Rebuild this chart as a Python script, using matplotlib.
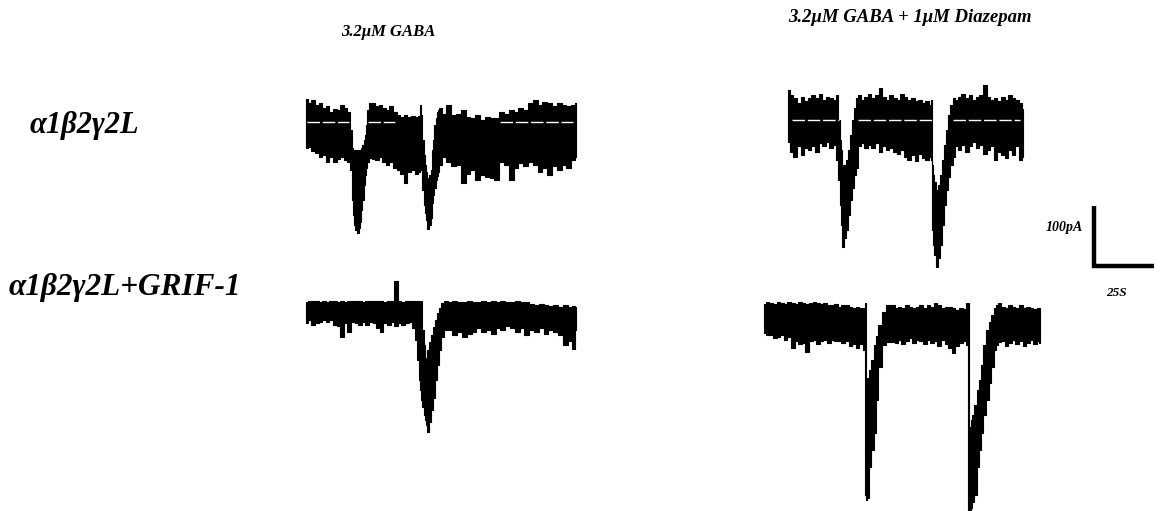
import matplotlib
matplotlib.use("Agg")
import matplotlib.pyplot as plt

# ---------------------------------------------------------------------------
# Whole-cell current traces: envelope (upper / lower edge of the noisy band)
# time in s from trace start, current in pA relative to holding baseline
# ---------------------------------------------------------------------------

# a1b2g2L, 3.2 uM GABA
t1 = [0, 1.5, 3, 4.5, 6, 7.5, 9, 10.5, 12, 13.5, 15, 16.5, 18,
      18.3, 18.75, 19.2, 19.6, 20, 20.8, 21.7, 22.5, 22.9, 23.3, 23.75, 24.2,
      24.6, 25, 25.8, 27,
      28, 29.5, 31, 32.5, 34, 35.5, 37, 38.5, 40, 41.5, 43, 44.5, 46, 47.5,
      47.9, 48.3, 48.75, 49.2, 49.6, 50, 50.8, 51.7, 52.1, 52.5, 52.9, 53.3,
      53.75, 54.2, 54.6, 55, 55.8,
      57.5, 59.5, 61.5, 63.5, 65.5, 67.5, 69.5, 71.5, 73.5, 75.5, 77.5, 79.5,
      81.5, 83.5, 85.5, 87.5, 89.5, 91.5, 93.5, 95.5, 97.5, 99.5, 101.5, 103.5,
      105.5, 107.5, 109.5, 111.5, 112.5]
hi1 = [39, 31, 37, 28, 31, 23, 26, 17, 21, 20, 28, 23, 17,
       17, -13, -43, -47, -47, -47, -47, -47, -47, -43, -38, -30, -22, -5, 20, 31,
       31, 26, 28, 23, 20, 26, 17, 12, 9, 12, 9, 10, 9, 10,
       28, 12, -30, -55, -72, -83, -93, -88, -80, -63, -47, -30, -5, 7, 17, 20, 23,
       14, 28, 12, 14, 20, 9, 6, 12, 3, 9, 6, 6, 17, 14, 20, 17, 23, 20, 31, 37,
       28, 34, 31, 26, 31, 28, 26, 28, 31]
lo1 = [-44, -41, -49, -52, -58, -55, -66, -58, -66, -61, -58, -63, -66,
       -72, -80, -130, -155, -172, -180, -185, -177, -167, -147, -130, -105,
       -88, -77, -67, -60,
       -61, -63, -58, -66, -72, -66, -77, -80, -86, -102, -83, -80, -86, -83,
       -72, -80, -113, -138, -152, -163, -178, -172, -160, -150, -135, -122,
       -110, -97, -90, -83, -72,
       -58, -66, -74, -72, -102, -86, -80, -97, -88, -91, -94, -97, -66, -72, -97,
       -77, -69, -74, -66, -72, -83, -77, -88, -74, -80, -72, -77, -63, -58]

# a1b2g2L, 3.2 uM GABA + 1 uM diazepam
t2 = [0, 1.5, 3, 4.5, 6, 7.5, 9, 10.5, 12, 13.5, 15, 16.5, 18, 19.5,
      20.8, 21.25, 21.7, 22.1, 22.5, 22.9, 23.75, 24.6, 25.4, 26.25, 27.1, 27.9,
      28.75,
      29.5, 31, 32.5, 34, 35.5, 37, 38.5, 40, 41.5, 43, 44.5, 46, 47.5, 49, 50.5,
      52, 53.5, 55, 56.5, 58, 59.5,
      59.6, 60, 60.4, 60.8, 61.25, 62.1, 62.9, 63.75, 64.6, 65.4, 66.25, 67.1,
      67.9, 69.2,
      70, 71.5, 73, 74.5, 76, 77.5, 79, 80.5, 82, 83.5, 85, 86.5, 88, 89.5, 91,
      92.5, 94, 95.5, 97, 97.8]
hi2 = [50, 42, 36, 28, 39, 31, 36, 42, 36, 44, 33, 39, 36, 33,
       42, 0, -33, -50, -67, -75, -75, -67, -50, -25, 0, 20, 37,
       42, 33, 39, 44, 36, 42, 53, 39, 33, 42, 36, 33, 44, 39, 33, 36, 31, 33,
       28, 31, 25,
       33, -33, -75, -92, -103, -117, -108, -92, -67, -42, -17, 8, 25, 37,
       33, 39, 44, 36, 42, 33, 39, 42, 58, 39, 33, 36, 31, 39, 33, 42, 36, 33,
       28, 19]
lo2 = [-36, -53, -61, -44, -58, -47, -50, -44, -53, -39, -44, -36, -47, -42,
       -67, -100, -142, -175, -200, -212, -197, -183, -158, -133, -113, -92, -80,
       -44, -39, -47, -42, -47, -39, -53, -44, -50, -47, -53, -56, -50, -61, -67,
       -58, -69, -56, -64, -67, -61,
       -67, -125, -183, -208, -225, -245, -230, -208, -175, -142, -117, -95,
       -75, -62,
       -44, -50, -42, -53, -44, -36, -47, -42, -56, -50, -44, -67, -53, -58, -64,
       -50, -58, -44, -67, -61]

# a1b2g2L + GRIF-1, 3.2 uM GABA
t3 = [0, 1.5, 3, 4.5, 6, 7.5, 9, 10.5, 12, 13.5, 15, 16.5, 18, 19.5, 21, 22.5,
      24, 25.5, 27, 28.5, 30, 31.5, 33, 34.5, 36, 37.5, 39, 40.5, 42, 43.5,
      45.0, 45.8, 46.7, 47.5, 47.9, 48.3, 48.75, 49.2, 49.6, 50, 50.8, 51.7,
      52.5, 53.3, 54.2, 55, 55.8, 57.1, 58.3,
      60, 62, 64, 66, 68, 70, 72, 74, 76, 78, 80, 82, 84, 86, 88, 90, 92, 94,
      96, 98, 100, 102, 104, 106, 108, 110, 112, 112.5]
hi3 = [17, 19, 18, 18, 16, 19, 17, 18, 19, 17, 18, 17, 19, 18, 18, 19, 17, 18,
       19, 18, 19, 18, 17, 19, 18, 51, 18, 17, 19, 18,
       18, 18, 18, 18, 18, 18, -30, -55, -80, -77, -63, -50, -38, -25, -13, -2,
       7, 15, 18,
       17, 18, 16, 17, 19, 17, 16, 18, 17, 19, 17, 18, 16, 17, 18, 16, 17, 14,
       12, 14, 12, 10, 12, 9, 12, 9, 10, 9]
lo3 = [-19, -13, -22, -19, -16, -13, -16, -13, -22, -24, -41, -19, -33, -16, -19,
       -22, -16, -22, -16, -19, -27, -33, -19, -22, -16, -24, -19, -22, -19, -16,
       -27, -47, -80, -113, -130, -147, -158, -172, -180, -188, -200, -183, -163,
       -143, -113, -88, -63, -42, -30,
       -30, -38, -33, -41, -36, -33, -27, -33, -30, -36, -27, -30, -24, -27, -33,
       -27, -38, -30, -33, -27, -36, -30, -33, -38, -55, -49, -61, -30]

# a1b2g2L + GRIF-1, 3.2 uM GABA + 1 uM diazepam
t4 = [0, 1.5, 3, 4.5, 6, 7.5, 9, 10.5, 12, 13.5, 15, 16.5, 18, 19.5, 21, 22.5,
      24, 25.5, 27, 28.5, 30, 31.5, 33, 34.5, 36, 37.5, 39, 40.5,
      41.7, 42.1, 42.5, 43.3, 44.2, 45, 46.25, 47.1, 48.3, 50, 51.7, 53.75,
      55, 56.5, 58, 59.5, 61, 62.5, 64, 65.5, 67, 68.5, 70, 71.5, 73, 74.5, 76,
      77.5, 79, 80.5, 82, 83.5,
      85, 85.4, 85.8, 86.3, 87.1, 87.9, 89.2, 90, 90.8, 92.1, 93.3, 94.2, 95,
      96.25, 97.1,
      98.3, 99.5, 101, 102.5, 104, 105.5, 107, 108.5, 110, 111.5, 113, 114.5, 115]
hi4 = [24, 26, 25, 24, 26, 25, 23, 26, 25, 24, 26, 25, 24, 25, 26, 25, 24, 25,
       22, 21, 24, 19, 22, 21, 19, 17, 18, 17,
       17, 25, -112, -100, -87, -70, -45, -30, -12, 10, 22, 22,
       17, 19, 17, 22, 19, 17, 19, 21, 17, 22, 19, 25, 21, 17, 19, 18, 17, 14,
       17, 15,
       25, 25, -182, -170, -162, -145, -120, -103, -78, -45, -20, -7, 5, 17, 22,
       25, 19, 17, 22, 19, 17, 21, 17, 19, 17, 15, 17, 17]
lo4 = [-25, -28, -28, -33, -31, -28, -36, -31, -50, -39, -44, -42, -56, -39,
       -36, -44, -39, -36, -42, -36, -39, -39, -42, -39, -47, -44, -50, -44,
       -53, -295, -303, -300, -248, -220, -192, -137, -82, -45, -40, -40,
       -42, -36, -44, -39, -33, -42, -36, -39, -44, -36, -42, -39, -47, -36,
       -44, -50, -58, -47, -42, -39,
       -45, -320, -320, -317, -307, -295, -248, -220, -192, -162, -137, -108,
       -82, -53, -45,
       -40, -39, -47, -42, -36, -44, -39, -47, -42, -36, -44, -39, -42]

# baseline reference marks (start, end in s) drawn over the upper traces
base1 = [(0.4, 17.9), (25.8, 37.1), (80.8, 111.2)]
base2 = [(1.7, 21.3), (29.2, 60.0), (68.8, 96.7)]

col_titles = ["3.2\u03bcM GABA", "3.2\u03bcM GABA + 1\u03bcM Diazepam"]
row_titles = ["\u03b11\u03b22\u03b32L", "\u03b11\u03b22\u03b32L+GRIF-1"]
bar_pA = 100
bar_s = 25

# ---------------------------------------------------------------------------
W, H = 1164, 511
PX_PER_S = 2.4      # horizontal scale of the recording
PX_PER_PA = 0.6     # vertical scale of the recording

fig = plt.figure(figsize=(W / 100, H / 100), dpi=100)
ax = fig.add_axes([0, 0, 1, 1])
ax.set_xlim(0, W / PX_PER_S)
ax.set_ylim(-H / PX_PER_PA, 0)
ax.axis("off")


def place(px, py):
    """pixel anchor -> (time offset, baseline current) on the shared axes"""
    return px / PX_PER_S, -py / PX_PER_PA


traces = [
    (t1, hi1, lo1, place(306, 122), base1),
    (t2, hi2, lo2, place(788, 120), base2),
    (t3, hi3, lo3, place(306, 312), None),
    (t4, hi4, lo4, place(764, 318), None),
]

for t, hi, lo, (x0, y0), marks in traces:
    x = [x0 + v for v in t]
    ax.fill_between(x, [y0 + v for v in lo], [y0 + v for v in hi],
                    step="mid", color="black", linewidth=0.8, edgecolor="black")
    if marks:
        for a, b in marks:
            ax.plot([x0 + a, x0 + b], [y0, y0], color="white", lw=1.0,
                    ls=(0, (9, 2)))

# scale bar
sx, sy = place(1094, 266)
ax.plot([sx, sx, sx + bar_s], [sy + bar_pA, sy, sy], color="black", lw=3.2,
        solid_joinstyle="miter", solid_capstyle="butt")

font = dict(family="Liberation Serif", weight="bold", style="italic")


def ftext(px, py, s, size, ha="center"):
    fig.text(px / W, 1 - py / H, s, ha=ha, va="center", fontsize=size, **font)


ftext(388, 32, col_titles[0], 12)
ftext(910, 17, col_titles[1], 13.5)
ftext(30, 125, row_titles[0], 22, ha="left")
ftext(9, 287, row_titles[1], 22.5, ha="left")
ftext(1083, 228, f"{bar_pA}pA", 10, ha="right")
ftext(1116, 293, f"{bar_s}S", 9.5)

fig.savefig("out.png", dpi=100, facecolor="white")
